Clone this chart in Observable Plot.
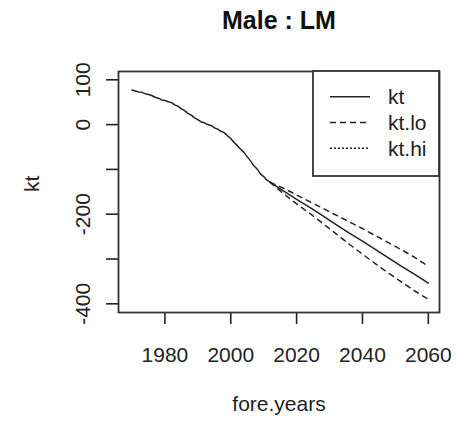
<!DOCTYPE html>
<html>
<head>
<meta charset="utf-8">
<script src="https://cdn.jsdelivr.net/npm/d3@7"></script>
<script src="https://cdn.jsdelivr.net/npm/@observablehq/plot@0.6"></script>
<style>
  html, body { margin: 0; padding: 0; background: #fff; }
  svg { display: block; font-family: "Liberation Sans", Arial, sans-serif; }
</style>
</head>
<body>
<div id="chart"></div>
<script>
const titleText = "Male : LM";
const xLabel = "fore.years";
const yLabel = "kt";

// Fitted kt (historic)
const histYears = [1970,1971,1972,1973,1974,1975,1976,1977,1978,1979,1980,1981,1982,1983,1984,1985,1986,1987,1988,1989,1990,1991,1992,1993,1994,1995,1996,1997,1998,1999,2000,2001,2002,2003,2004,2005,2006,2007,2008,2009,2010,2011,2012];
const histKt = [77,75,73,72,69,67,65,61,59,55,54,51,49,44,41,35,31,25,21,15,11,6,4,0,-2,-7,-10,-15,-18,-25,-31,-40,-47,-55,-62,-72,-81,-92,-99,-110,-116,-124,-129];

// Forecast kt with bounds
const foreYears = [2012,2016,2020,2024,2028,2032,2036,2040,2044,2048,2052,2056,2060];
const foreKt = [-129,-148,-167,-185,-204,-223,-242,-260,-279,-298,-317,-335,-354];
const foreLo = [-129,-154,-177,-198,-221,-244,-267,-289,-311,-332,-352,-372,-390];
const foreHi = [-129,-142,-157,-172,-187,-202,-217,-232,-248,-264,-280,-297,-316];

const xTicks = [1980, 2000, 2020, 2040, 2060];
const yTicks = [-400, -300, -200, -100, 0, 100];
const yTickLabels = [-400, -200, 0, 100];

const legendItems = [
  {label: "kt", dash: null},
  {label: "kt.lo", dash: "6,4"},
  {label: "kt.hi", dash: "2,2"}
];

const hist = histYears.map((y, i) => ({year: y, kt: histKt[i]}));
const fore = foreYears.map((y, i) => ({year: y, kt: foreKt[i], lo: foreLo[i], hi: foreHi[i]}));

const ink = "#222";
const W = 457, H = 421;

const plot = Plot.plot({
  width: W,
  height: H,
  marginLeft: 118,
  marginRight: 18,
  marginTop: 71,
  marginBottom: 109,
  style: {fontFamily: "Liberation Sans, Arial, sans-serif", background: "#fff"},
  x: {domain: [1965.9, 2063.4]},
  y: {domain: [-419.4, 118.5]},
  marks: [
    Plot.axisX({ticks: xTicks, tickSize: 12, tickPadding: 23, tickFormat: d => String(d), fontSize: 21, stroke: ink, fill: ink, strokeWidth: 1.6, label: null}),
    Plot.axisY({ticks: yTicks, tickSize: 12, tickFormat: () => "", stroke: ink, strokeWidth: 1.6, label: null}),
    Plot.text(yTickLabels, {y: d => d, text: d => String(d), frameAnchor: "left", dx: -35, rotate: -90, fontSize: 21, fill: ink, textAnchor: "middle", lineAnchor: "middle"}),
    Plot.line(hist, {x: "year", y: "kt", stroke: ink, strokeWidth: 1.5}),
    Plot.line(fore, {x: "year", y: "kt", stroke: ink, strokeWidth: 1.5}),
    Plot.line(fore, {x: "year", y: "lo", stroke: ink, strokeWidth: 1.5, strokeDasharray: "5,5"}),
    Plot.line(fore, {x: "year", y: "hi", stroke: ink, strokeWidth: 1.5, strokeDasharray: "5,5"}),
    Plot.frame({stroke: "#333", strokeWidth: 1.8}),
    Plot.text([titleText], {frameAnchor: "top", dy: -43, fontSize: 25, fontWeight: "bold", fill: "#111", text: d => d, lineAnchor: "bottom"}),
    Plot.text([xLabel], {frameAnchor: "bottom", dy: 98, fontSize: 21, fill: ink, text: d => d, lineAnchor: "bottom"}),
    Plot.text([yLabel], {frameAnchor: "left", dx: -86, rotate: -90, fontSize: 21, fill: ink, text: d => d, lineAnchor: "middle"})
  ]
});

document.getElementById("chart").appendChild(plot);

// Legend box in the top-right corner of the plot region
const svg = d3.select(plot);
const lg = svg.append("g");
lg.append("rect")
  .attr("x", 313).attr("y", 71).attr("width", 126).attr("height", 105)
  .attr("fill", "#fff").attr("stroke", "#333").attr("stroke-width", 1.8);
legendItems.forEach((item, i) => {
  const yy = 96.7 + i * 25.8;
  lg.append("line")
    .attr("x1", 330).attr("x2", 370).attr("y1", yy).attr("y2", yy)
    .attr("stroke", ink).attr("stroke-width", 1.5)
    .attr("stroke-dasharray", item.dash);
  lg.append("text")
    .attr("x", 388).attr("y", yy).attr("dy", "0.35em")
    .attr("text-anchor", "start")
    .attr("font-size", 21).attr("fill", ink)
    .text(item.label);
});
</script>
</body>
</html>
